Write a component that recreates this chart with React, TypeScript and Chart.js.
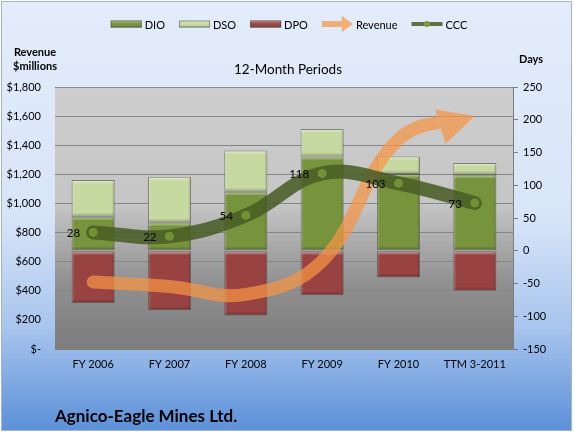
import React, { useEffect, useRef } from 'react';
import { Chart, registerables } from 'chart.js';

Chart.register(...registerables);

const categories = ['FY 2006', 'FY 2007', 'FY 2008', 'FY 2009', 'FY 2010', 'TTM 3-2011'];
const dio = [52, 43, 90, 144, 117, 116];
const dso = [56, 70, 63, 42, 27, 18];
const dpo = [-80, -91, -99, -68, -41, -61];
const ccc = [28, 22, 54, 118, 103, 73];
const revenue = [460, 430, 375, 605, 1440, 1600];

const revenueAxis = { min: 0, max: 1800, step: 200 };
const daysAxis = { min: -150, max: 250, step: 50 };

const FONT = 'Lato, "Open Sans", sans-serif';
const W = 574;
const H = 433;

const COLORS = {
  dio: '#77933c',
  dso: '#c6d9a0',
  dpo: '#984241',
  revenue: '#f79646',
  ccc: 'rgba(72, 92, 36, 0.86)',
};

const backgroundPlugin = {
  id: 'bgPlugin',
  beforeDraw(chart: any) {
    const ctx = chart.ctx as CanvasRenderingContext2D;
    ctx.save();
    ctx.fillStyle = '#ffffff';
    ctx.fillRect(0, 0, chart.width, chart.height);
    const g = ctx.createLinearGradient(0, 0, 0, chart.height);
    g.addColorStop(0, '#e3ecfa');
    g.addColorStop(0.5, '#d8e5f8');
    g.addColorStop(0.75, '#a9c6ee');
    g.addColorStop(1, '#5a8fd8');
    ctx.fillStyle = g;
    ctx.fillRect(1, 1, chart.width - 3, chart.height - 3);
    ctx.strokeStyle = '#a8b4c4';
    ctx.lineWidth = 1;
    ctx.strokeRect(1.5, 1.5, chart.width - 4, chart.height - 4);

    const a = chart.chartArea;
    const pg = ctx.createLinearGradient(0, a.top, 0, a.bottom);
    pg.addColorStop(0, '#cecece');
    pg.addColorStop(0.45, '#c5c5c5');
    pg.addColorStop(0.75, '#909090');
    pg.addColorStop(1, '#7c7c7c');
    ctx.fillStyle = pg;
    ctx.fillRect(a.left, a.top, a.right - a.left, a.bottom - a.top);
    ctx.restore();
  },
};

const barBevelPlugin = {
  id: 'barBevel',
  afterDatasetDraw(chart: any, args: any) {
    const meta = args.meta;
    if (meta.type !== 'bar') return;
    const ctx = chart.ctx as CanvasRenderingContext2D;
    ctx.save();
    meta.data.forEach((el: any) => {
      const p = el.getProps(['x', 'y', 'base', 'width'], true);
      const l = p.x - p.width / 2;
      const w = p.width;
      const t = Math.min(p.y, p.base);
      const b = Math.max(p.y, p.base);
      const h = b - t;
      if (h < 2) return;
      const bev = Math.min(4, h / 3);
      let g = ctx.createLinearGradient(0, t, 0, t + bev);
      g.addColorStop(0, 'rgba(255,255,255,0.55)');
      g.addColorStop(1, 'rgba(255,255,255,0)');
      ctx.fillStyle = g;
      ctx.fillRect(l + 1, t + 1, w - 2, bev);
      g = ctx.createLinearGradient(0, b - bev, 0, b);
      g.addColorStop(0, 'rgba(0,0,0,0)');
      g.addColorStop(1, 'rgba(0,0,0,0.28)');
      ctx.fillStyle = g;
      ctx.fillRect(l + 1, b - bev - 1, w - 2, bev);
      g = ctx.createLinearGradient(l, 0, l + 3, 0);
      g.addColorStop(0, 'rgba(255,255,255,0.25)');
      g.addColorStop(1, 'rgba(255,255,255,0)');
      ctx.fillStyle = g;
      ctx.fillRect(l + 1, t + 1, 3, h - 2);
      g = ctx.createLinearGradient(l + w - 3, 0, l + w, 0);
      g.addColorStop(0, 'rgba(0,0,0,0)');
      g.addColorStop(1, 'rgba(0,0,0,0.22)');
      ctx.fillStyle = g;
      ctx.fillRect(l + w - 4, t + 1, 3, h - 2);
    });
    ctx.restore();
  },
};

const revenueArrowPlugin = {
  id: 'revenueArrow',
  beforeDatasetDraw(chart: any, args: any) {
    const ds = chart.data.datasets[args.index];
    if (ds.label !== 'Revenue') return;
    const meta = args.meta;
    const line = meta.dataset;
    const pts = meta.data;
    if (!line || !pts.length) return false;
    line.updateControlPoints(chart.chartArea, 'x');
    const cw = chart.canvas.width;
    const chh = chart.canvas.height;
    const off = document.createElement('canvas');
    off.width = cw;
    off.height = chh;
    const o = off.getContext('2d') as CanvasRenderingContext2D;
    const r = chart.currentDevicePixelRatio || 1;
    o.scale(r, r);
    const last = pts[pts.length - 1];
    let dx = last.x - (last.cp1x ?? pts[pts.length - 2].x);
    let dy = last.y - (last.cp1y ?? pts[pts.length - 2].y);
    const len = Math.hypot(dx, dy) || 1;
    dx /= len;
    dy /= len;
    const L = 36;
    const HW = 18;
    const bx = last.x - dx * L;
    const by = last.y - dy * L;
    const px = -dy;
    const py = dx;
    o.save();
    o.beginPath();
    o.moveTo(bx + px * 3000, by + py * 3000);
    o.lineTo(bx - px * 3000, by - py * 3000);
    o.lineTo(bx - px * 3000 - dx * 6000, by - py * 3000 - dy * 6000);
    o.lineTo(bx + px * 3000 - dx * 6000, by + py * 3000 - dy * 6000);
    o.closePath();
    o.clip();
    o.beginPath();
    line.path(o);
    o.lineWidth = 13;
    o.lineCap = 'round';
    o.lineJoin = 'round';
    o.strokeStyle = COLORS.revenue;
    o.stroke();
    o.restore();
    o.beginPath();
    o.moveTo(last.x, last.y);
    o.lineTo(bx + px * HW, by + py * HW);
    o.lineTo(bx - px * HW, by - py * HW);
    o.closePath();
    o.fillStyle = COLORS.revenue;
    o.fill();
    const ctx = chart.ctx as CanvasRenderingContext2D;
    ctx.save();
    ctx.globalAlpha = 0.72;
    ctx.drawImage(off, 0, 0, chart.width, chart.height);
    ctx.restore();
    return false;
  },
};

const cccLabelPlugin = {
  id: 'cccLabels',
  afterDatasetsDraw(chart: any) {
    const idx = chart.data.datasets.findIndex((d: any) => d.label === 'CCC');
    if (idx < 0) return;
    const meta = chart.getDatasetMeta(idx);
    const ctx = chart.ctx as CanvasRenderingContext2D;
    ctx.save();
    ctx.font = `11.5px ${FONT}`;
    ctx.fillStyle = '#000';
    ctx.textAlign = 'right';
    ctx.textBaseline = 'middle';
    meta.data.forEach((pt: any, i: number) => {
      ctx.fillText(String(chart.data.datasets[idx].data[i]), pt.x - 13, pt.y + 1);
    });
    ctx.restore();
  },
};

const textsPlugin = {
  id: 'textsAndLegend',
  afterDraw(chart: any) {
    const ctx = chart.ctx as CanvasRenderingContext2D;
    ctx.save();
    ctx.fillStyle = '#000';
    ctx.textBaseline = 'middle';
    ctx.textAlign = 'center';
    ctx.font = `bold 11px ${FONT}`;
    ctx.fillText('Revenue', 35, 52);
    ctx.fillText('$millions', 35, 66);
    ctx.fillText('Days', 531, 59);
    ctx.font = `13.5px ${FONT}`;
    ctx.fillText('12-Month Periods', 288, 70);
    ctx.textAlign = 'left';
    ctx.font = `bold 17px ${FONT}`;
    ctx.fillText('Agnico-Eagle Mines Ltd.', 55, 417);

    // legend
    ctx.font = `11px ${FONT}`;
    const items = chart.data.datasets.map((d: any) => d.label);
    const order = ['DIO', 'DSO', 'DPO', 'Revenue', 'CCC'].filter((n) => items.includes(n));
    const sym = 31;
    const gap = 3;
    const spacing = 14;
    const widths = order.map((n) => ctx.measureText(n).width);
    const total = widths.reduce((s, w) => s + sym + gap + w, 0) + spacing * (order.length - 1);
    let x = 289 - total / 2;
    const cy = 24;
    order.forEach((name, i) => {
      if (name === 'DIO' || name === 'DSO' || name === 'DPO') {
        const col = name === 'DIO' ? COLORS.dio : name === 'DSO' ? COLORS.dso : COLORS.dpo;
        ctx.fillStyle = col;
        ctx.fillRect(x, cy - 3.5, sym, 7);
        const g = ctx.createLinearGradient(0, cy - 3.5, 0, cy + 3.5);
        g.addColorStop(0, 'rgba(255,255,255,0.45)');
        g.addColorStop(0.5, 'rgba(255,255,255,0)');
        g.addColorStop(1, 'rgba(0,0,0,0.2)');
        ctx.fillStyle = g;
        ctx.fillRect(x, cy - 3.5, sym, 7);
        ctx.strokeStyle = 'rgba(70,70,70,0.5)';
        ctx.lineWidth = 1;
        ctx.strokeRect(x + 0.5, cy - 3, sym - 1, 6);
      } else if (name === 'Revenue') {
        ctx.save();
        ctx.globalAlpha = 0.72;
        ctx.fillStyle = COLORS.revenue;
        ctx.beginPath();
        ctx.moveTo(x, cy - 3);
        ctx.lineTo(x + 20, cy - 3);
        ctx.lineTo(x + 20, cy - 8);
        ctx.lineTo(x + sym, cy);
        ctx.lineTo(x + 20, cy + 8);
        ctx.lineTo(x + 20, cy + 3);
        ctx.lineTo(x, cy + 3);
        ctx.closePath();
        ctx.fill();
        ctx.restore();
      } else if (name === 'CCC') {
        ctx.strokeStyle = COLORS.ccc;
        ctx.lineWidth = 4;
        ctx.beginPath();
        ctx.moveTo(x, cy);
        ctx.lineTo(x + sym, cy);
        ctx.stroke();
        ctx.fillStyle = '#7a9a3c';
        ctx.beginPath();
        ctx.arc(x + sym / 2, cy, 3, 0, Math.PI * 2);
        ctx.fill();
      }
      ctx.fillStyle = '#000';
      ctx.textAlign = 'left';
      ctx.fillText(name, x + sym + gap, cy + 1);
      x += sym + gap + widths[i] + spacing;
    });
    ctx.restore();
  },
};

export default function App() {
  const canvasRef = useRef<HTMLCanvasElement | null>(null);

  useEffect(() => {
    if (!canvasRef.current) return;
    Chart.defaults.font.family = FONT;
    const barCommon = {
      type: 'bar' as const,
      yAxisID: 'y1',
      stack: 'days',
      borderWidth: 1,
      borderColor: 'rgba(60,60,60,0.55)',
      borderSkipped: false,
      categoryPercentage: 1,
      barPercentage: 0.565,
    };
    const chart = new Chart(canvasRef.current, {
      data: {
        labels: categories,
        datasets: [
          {
            type: 'line',
            label: 'CCC',
            data: ccc,
            yAxisID: 'y1',
            stack: 'ccc',
            order: 0,
            borderColor: COLORS.ccc,
            borderWidth: 14,
            borderCapStyle: 'round',
            borderJoinStyle: 'round',
            tension: 0.4,
            fill: false,
            pointRadius: 5,
            pointBackgroundColor: '#729236',
            pointBorderColor: '#4f6228',
            pointBorderWidth: 1,
          },
          {
            type: 'line',
            label: 'Revenue',
            data: revenue,
            yAxisID: 'y',
            order: 1,
            borderColor: COLORS.revenue,
            borderWidth: 13,
            tension: 0.4,
            fill: false,
            pointRadius: 0,
          },
          { ...barCommon, label: 'DIO', data: dio, order: 2, backgroundColor: COLORS.dio },
          { ...barCommon, label: 'DSO', data: dso, order: 3, backgroundColor: COLORS.dso },
          { ...barCommon, label: 'DPO', data: dpo, order: 4, backgroundColor: COLORS.dpo },
        ] as any,
      },
      options: {
        responsive: false,
        animation: false,
        devicePixelRatio: 1,
        events: [],
        layout: { padding: { top: 87, left: 0, right: 0, bottom: 0 } },
        plugins: {
          legend: { display: false },
          title: { display: false },
          tooltip: { enabled: false },
        },
        scales: {
          x: {
            stacked: true,
            grid: { display: false, drawTicks: false },
            border: { display: true, color: '#7d7d7d' },
            ticks: { color: '#000', font: { size: 11 }, padding: 9, maxRotation: 0, autoSkip: false },
            afterFit: (s: any) => {
              s.height = 84;
            },
          },
          y: {
            position: 'left',
            min: revenueAxis.min,
            max: revenueAxis.max,
            stacked: false,
            grid: { color: '#868686', lineWidth: 1, drawTicks: false },
            border: { display: false },
            ticks: {
              stepSize: revenueAxis.step,
              color: '#000',
              font: { size: 11 },
              padding: 14,
              callback: (v: any) => (Number(v) === 0 ? '$-' : '$' + Number(v).toLocaleString('en-US')),
            },
            afterFit: (s: any) => {
              s.width = 55;
            },
          },
          y1: {
            position: 'right',
            min: daysAxis.min,
            max: daysAxis.max,
            stacked: true,
            grid: { drawOnChartArea: false, drawTicks: true, tickLength: 5, color: '#7d7d7d' },
            border: { display: true, color: '#7d7d7d' },
            ticks: { stepSize: daysAxis.step, color: '#000', font: { size: 11 }, padding: 5 },
            afterFit: (s: any) => {
              s.width = 61;
            },
          },
        },
      } as any,
      plugins: [backgroundPlugin, barBevelPlugin, revenueArrowPlugin, cccLabelPlugin, textsPlugin],
    });
    return () => chart.destroy();
  }, []);

  return (
    <div style={{ position: 'fixed', left: 0, top: 0, width: W, height: H }}>
      <canvas ref={canvasRef} width={W} height={H} style={{ width: W, height: H, display: 'block' }} />
    </div>
  );
}
